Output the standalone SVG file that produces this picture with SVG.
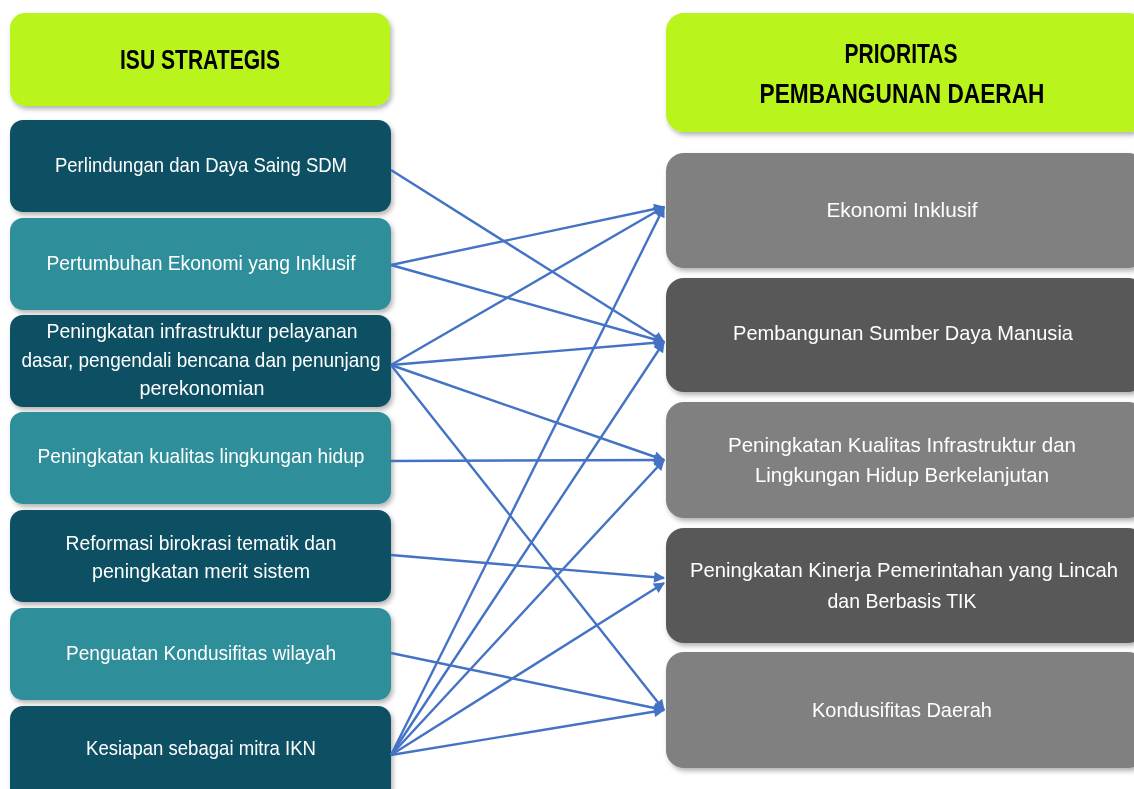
<svg xmlns="http://www.w3.org/2000/svg" width="1134" height="789" viewBox="0 0 1134 789">
<defs>
<style>
.hdr{fill:#b9f41e}
.dk{fill:#0b4f63}
.tl{fill:#2e8e9a}
.g1{fill:#808080}
.g2{fill:#595959}
.ht{font-family:"Liberation Sans",Arial,sans-serif;font-weight:bold;font-size:28px;fill:#000;text-anchor:middle}
.t{font-family:"Liberation Sans",Arial,sans-serif;font-size:21px;fill:#fff;text-anchor:middle}
.c line{stroke:#4472c4;stroke-width:2.4;marker-end:url(#ah)}
</style>
<filter id="sh" x="-5%" y="-10%" width="115%" height="130%">
<feDropShadow dx="2" dy="3" stdDeviation="2.5" flood-color="#000" flood-opacity="0.3"/>
</filter>
<marker id="ah" viewBox="0 0 10 10" refX="9" refY="5" markerWidth="12" markerHeight="11" markerUnits="userSpaceOnUse" orient="auto">
<path d="M0,0 L10,5 L0,10 z" fill="#4472c4"/>
</marker>
</defs>
<rect width="1134" height="789" fill="#fff"/>

<g id="hdr-left" filter="url(#sh)">
<rect class="hdr" x="10" y="13" width="380" height="93" rx="15"/>
<text class="ht" x="200" y="69" textLength="160" lengthAdjust="spacingAndGlyphs">ISU STRATEGIS</text>
</g>
<g id="hdr-right" filter="url(#sh)">
<rect class="hdr" x="666" y="13" width="480" height="119" rx="18"/>
<text class="ht" x="901" y="63" textLength="113" lengthAdjust="spacingAndGlyphs">PRIORITAS</text>
<text class="ht" x="902" y="103" textLength="285" lengthAdjust="spacingAndGlyphs">PEMBANGUNAN DAERAH</text>
</g>

<g id="isu1" filter="url(#sh)"><rect class="dk" x="10" y="120" width="381" height="92" rx="13"/>
<text class="t" x="201" y="172" textLength="292" lengthAdjust="spacingAndGlyphs">Perlindungan dan Daya Saing SDM</text></g>
<g id="isu2" filter="url(#sh)"><rect class="tl" x="10" y="218" width="381" height="92" rx="13"/>
<text class="t" x="201" y="270" textLength="309" lengthAdjust="spacingAndGlyphs">Pertumbuhan Ekonomi yang Inklusif</text></g>
<g id="isu3" filter="url(#sh)"><rect class="dk" x="10" y="315" width="381" height="92" rx="13"/>
<text class="t" x="202" y="338" textLength="311" lengthAdjust="spacingAndGlyphs">Peningkatan infrastruktur pelayanan</text>
<text class="t" x="201" y="367" textLength="359" lengthAdjust="spacingAndGlyphs">dasar, pengendali bencana dan penunjang</text>
<text class="t" x="202" y="395" textLength="125" lengthAdjust="spacingAndGlyphs">perekonomian</text></g>
<g id="isu4" filter="url(#sh)"><rect class="tl" x="10" y="412" width="381" height="92" rx="13"/>
<text class="t" x="201" y="463" textLength="327" lengthAdjust="spacingAndGlyphs">Peningkatan kualitas lingkungan hidup</text></g>
<g id="isu5" filter="url(#sh)"><rect class="dk" x="10" y="510" width="381" height="92" rx="13"/>
<text class="t" x="201" y="550" textLength="271" lengthAdjust="spacingAndGlyphs">Reformasi birokrasi tematik dan</text>
<text class="t" x="201" y="578" textLength="218" lengthAdjust="spacingAndGlyphs">peningkatan merit sistem</text></g>
<g id="isu6" filter="url(#sh)"><rect class="tl" x="10" y="608" width="381" height="92" rx="13"/>
<text class="t" x="201" y="660" textLength="270" lengthAdjust="spacingAndGlyphs">Penguatan Kondusifitas wilayah</text></g>
<g id="isu7" filter="url(#sh)"><rect class="dk" x="10" y="706" width="381" height="100" rx="13"/>
<text class="t" x="201" y="755" textLength="230" lengthAdjust="spacingAndGlyphs">Kesiapan sebagai mitra IKN</text></g>

<g id="pr1" filter="url(#sh)"><rect class="g1" x="666" y="153" width="480" height="115" rx="18"/>
<text class="t" x="902" y="217" textLength="151" lengthAdjust="spacingAndGlyphs">Ekonomi Inklusif</text></g>
<g id="pr2" filter="url(#sh)"><rect class="g2" x="666" y="278" width="480" height="114" rx="18"/>
<text class="t" x="903" y="340" textLength="340" lengthAdjust="spacingAndGlyphs">Pembangunan Sumber Daya Manusia</text></g>
<g id="pr3" filter="url(#sh)"><rect class="g1" x="666" y="402" width="480" height="116" rx="18"/>
<text class="t" x="902" y="452" textLength="348" lengthAdjust="spacingAndGlyphs">Peningkatan Kualitas Infrastruktur dan</text>
<text class="t" x="902" y="482" textLength="294" lengthAdjust="spacingAndGlyphs">Lingkungan Hidup Berkelanjutan</text></g>
<g id="pr4" filter="url(#sh)"><rect class="g2" x="666" y="528" width="480" height="115" rx="18"/>
<text class="t" x="904" y="577" textLength="428" lengthAdjust="spacingAndGlyphs">Peningkatan Kinerja Pemerintahan yang Lincah</text>
<text class="t" x="902" y="608" textLength="149" lengthAdjust="spacingAndGlyphs">dan Berbasis TIK</text></g>
<g id="pr5" filter="url(#sh)"><rect class="g1" x="666" y="652" width="480" height="116" rx="18"/>
<text class="t" x="902" y="717" textLength="180" lengthAdjust="spacingAndGlyphs">Kondusifitas Daerah</text></g>

<g id="connectors" class="c">
<line x1="391" y1="170" x2="664" y2="342"/>
<line x1="391" y1="265" x2="664" y2="207"/>
<line x1="391" y1="265" x2="664" y2="342"/>
<line x1="391" y1="365" x2="664" y2="207"/>
<line x1="391" y1="365" x2="664" y2="342"/>
<line x1="391" y1="365" x2="664" y2="460"/>
<line x1="391" y1="365" x2="664" y2="710"/>
<line x1="391" y1="461" x2="664" y2="460"/>
<line x1="391" y1="555" x2="664" y2="578"/>
<line x1="391" y1="653" x2="664" y2="710"/>
<line x1="391" y1="755" x2="664" y2="207"/>
<line x1="391" y1="755" x2="664" y2="342"/>
<line x1="391" y1="755" x2="664" y2="460"/>
<line x1="391" y1="755" x2="664" y2="583"/>
<line x1="391" y1="755" x2="664" y2="710"/>
</g>
</svg>
